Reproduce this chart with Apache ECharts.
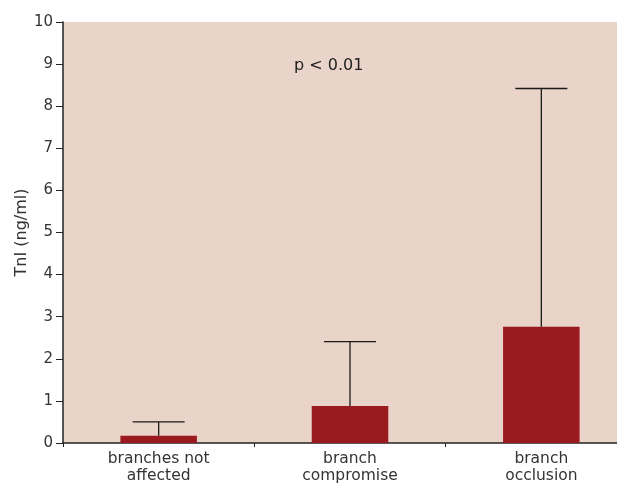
<!DOCTYPE html>
<html><head><meta charset="utf-8">
<script src="https://cdn.jsdelivr.net/npm/echarts@6/dist/echarts.min.js"></script>
<style>html,body{margin:0;padding:0;background:#fff}#c{width:617px;height:485px}</style>
</head><body><div id="c"></div>
<script>
var categories = ['branches not\naffected', 'branch\ncompromise', 'branch\nocclusion'];
var means = [0.17, 0.88, 2.76];
var upper = [0.50, 2.41, 8.42];
var yTicks = [0, 1, 2, 3, 4, 5, 6, 7, 8, 9, 10];

var chart = echarts.init(document.getElementById('c'));
var font = 'DejaVu Sans, sans-serif';
chart.setOption({
  animation: false,
  grid: {left: 63, top: 22, right: -20, bottom: 42, outerBoundsMode: 'none', containLabel: false,
         show: true, backgroundColor: '#EAD3C8', borderWidth: 0},
  xAxis: {
    type: 'category', data: categories,
    axisLine: {lineStyle: {color: '#222', width: 1.5}},
    axisTick: {show: true, length: 4, alignWithLabel: false, lineStyle: {color: '#222'}},
    axisLabel: {color: '#333', fontSize: 15.5, fontFamily: font, lineHeight: 17, margin: 7}
  },
  yAxis: {
    type: 'value', min: yTicks[0], max: yTicks[yTicks.length - 1], interval: 1,
    name: 'TnI (ng/ml)', nameLocation: 'middle', nameGap: 33, nameRotate: 90, nameMoveOverlap: false,
    nameTextStyle: {color: '#333', fontSize: 16, fontFamily: font},
    splitLine: {show: false},
    axisLine: {show: true, lineStyle: {color: '#222', width: 1.5}},
    axisTick: {show: true, length: 7, lineStyle: {color: '#222'}},
    axisLabel: {color: '#333', fontSize: 15, fontFamily: font, margin: 10}
  },
  series: [
    {type: 'bar', data: means, barWidth: '40%', itemStyle: {color: '#9A1A1F'}, z: 2},
    {type: 'custom', z: 3,
     data: means.map(function (m, i) { return [i, m, upper[i]]; }),
     renderItem: function (params, api) {
       var x = api.value(0);
       var lo = api.coord([x, api.value(1)]);
       var hi = api.coord([x, api.value(2)]);
       var hw = 26;
       var st = {stroke: '#1a1a1a', lineWidth: 1.3};
       return {type: 'group', children: [
         {type: 'line', shape: {x1: lo[0], y1: lo[1], x2: hi[0], y2: hi[1]}, style: st},
         {type: 'line', shape: {x1: hi[0] - hw, y1: hi[1], x2: hi[0] + hw, y2: hi[1]}, style: st}
       ]};
     }
    }
  ],
  graphic: [{type: 'text', left: 294, top: 58, style: {text: 'p < 0.01', fontSize: 16, fontFamily: font, fill: '#222'}}]
});
</script></body></html>
